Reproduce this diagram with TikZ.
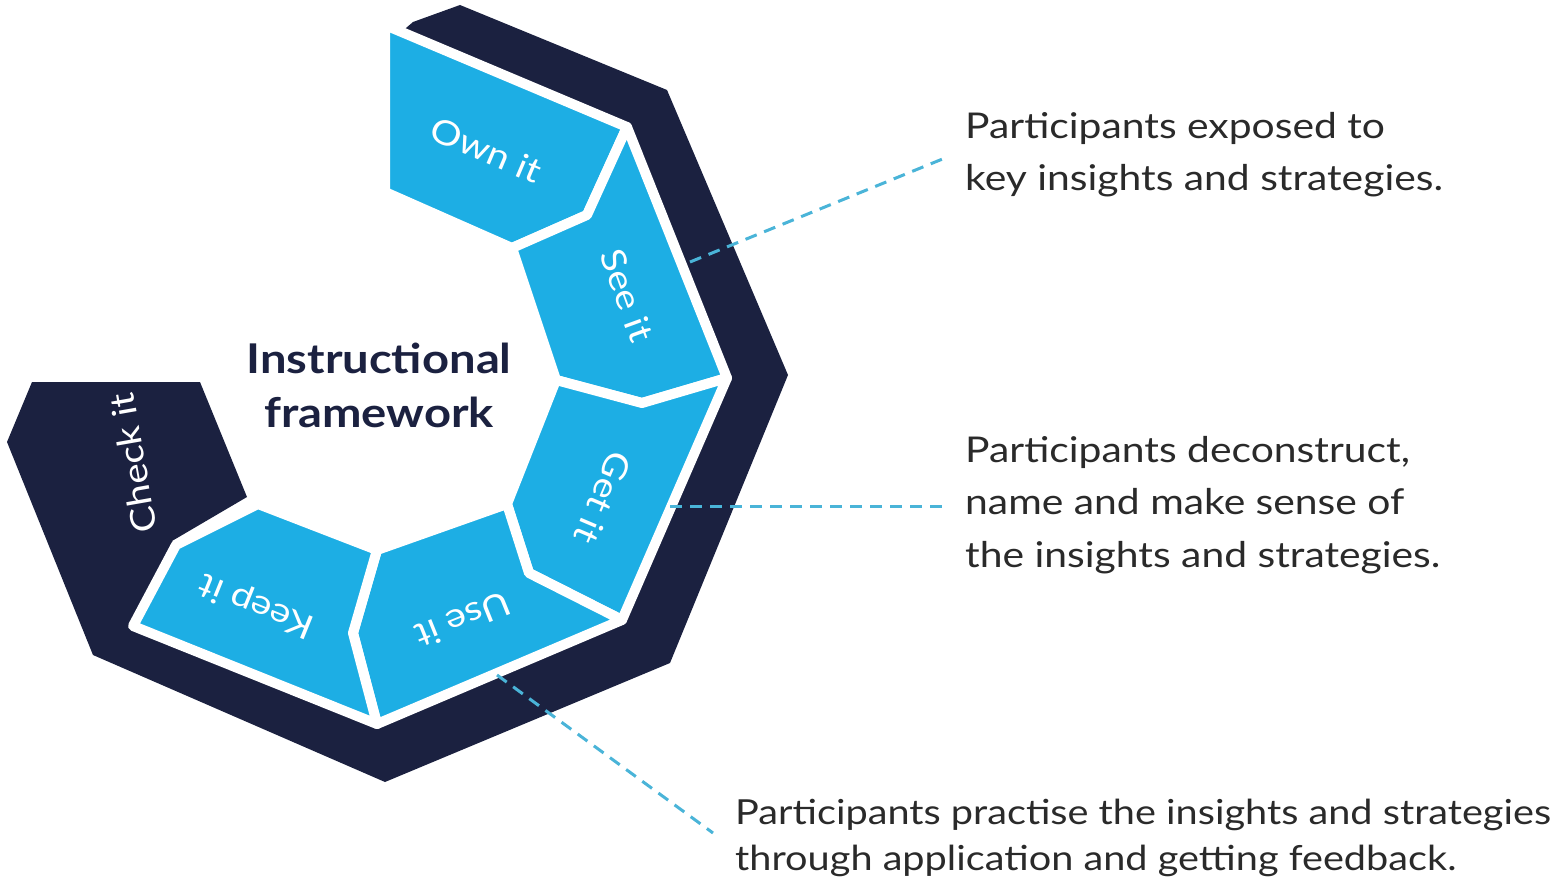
\documentclass[tikz,border=0pt]{standalone}
\usepackage{fontspec}
\setmainfont{Lato}[FakeStretch=1.15]
\usetikzlibrary{calc}
\definecolor{navy}{HTML}{1B2140}
\definecolor{cyanb}{HTML}{1DAEE4}
\definecolor{dashc}{HTML}{4AB4D8}
\definecolor{txt}{HTML}{2A2A2A}
\begin{document}
\begin{tikzpicture}[x=1pt,y=-1pt,
  seg/.style={fill=cyanb, draw=white, line width=10pt, line join=round},
  seglabel/.style={text=white, font=\fontsize{34}{40}\selectfont, inner sep=0pt},
  desc/.style={text=txt, font=\fontsize{35.5}{52.5}\selectfont, align=left, inner sep=0pt, anchor=north west},
  leader/.style={dashc, line width=3pt, dash pattern=on 12pt off 8pt}]
\useasboundingbox (0,0) rectangle (1563,893);
% dark band
\fill[navy] (413,22) -- (460,5) -- (667,90) -- (788,375) -- (670,663) -- (385,782) -- (93,655) -- (7,442) -- (32,382) -- (200,382) -- (247,497) -- (172,541) -- (176,545) -- (258,504) -- (377,550) -- (507,504) -- (556,380) -- (512,248) -- (385,192) -- (392,40) -- cycle;
% segment corner points
\coordinate (O1) at (385,25);
\coordinate (O2) at (627,127);
\coordinate (O3) at (727,378);
\coordinate (O4) at (622,620);
\coordinate (O5) at (377,724);
\coordinate (O6) at (133,626);
\coordinate (I1) at (385,192);
\coordinate (I2) at (512,248);
\coordinate (I3) at (556,380);
\coordinate (I4) at (507,504);
\coordinate (I5) at (377,550);
\coordinate (I6) at (258,504);
\coordinate (I7) at (176,545);
\coordinate (M1) at (587,215);
\coordinate (M2) at (642,403);
\coordinate (M3) at (529,573);
\coordinate (M4) at (353,633);
% segments
\draw[seg] (O1) -- (O2) -- (M1) -- (I2) -- (I1) -- cycle;
\draw[seg] (O2) -- (O3) -- (M2) -- (I3) -- (I2) -- (M1) -- cycle;
\draw[seg] (O3) -- (O4) -- (M3) -- (I4) -- (I3) -- (M2) -- cycle;
\draw[seg] (O4) -- (O5) -- (M4) -- (I5) -- (I4) -- (M3) -- cycle;
\draw[seg] (O5) -- (O6) -- (I7) -- (I6) -- (I5) -- (M4) -- cycle;
% segment labels
\node[seglabel, rotate=-23] (own) at (486,150) {Own it};
\node[seglabel, rotate=-70] (see) at (627,295) {See it};
\node[seglabel, rotate=-113] (get) at (603,498) {Get it};
\node[seglabel, rotate=-158] (use) at (463,620) {Use it};
\node[seglabel, rotate=158] (keep) at (257,605) {Keep it};
\node[seglabel, rotate=100] (check) at (133,463) {Check it};
% title
\node[text=navy, font=\fontsize{41}{54}\selectfont\bfseries, align=center, inner sep=0pt] (title) at (379,385) {Instructional\\framework};
% descriptions
\node[desc] (t1) at (965,112) {Participants exposed to\\key insights and strategies.};
\node[desc] (t2) at (965,436) {Participants deconstruct,\\name and make sense of\\the insights and strategies.};
\node[desc, font=\fontsize{34.5}{46}\selectfont] (t3) at (735,799) {Participants practise the insights and strategies\\through application and getting feedback.};
% leaders
\coordinate (s1) at (690,262);
\coordinate (s2) at (670,506);
\coordinate (s3) at (497,675);
\coordinate (e1) at ($(t1.north west)+(-20,46)$);
\coordinate (e2) at ($(t2.north west)+(-20,70)$);
\coordinate (e3) at ($(t3.north west)+(-22,34)$);
\draw[leader] (s1) -- (e1);
\draw[leader] (s2) -- (e2);
\draw[leader] (s3) -- (e3);
\end{tikzpicture}
\end{document}
